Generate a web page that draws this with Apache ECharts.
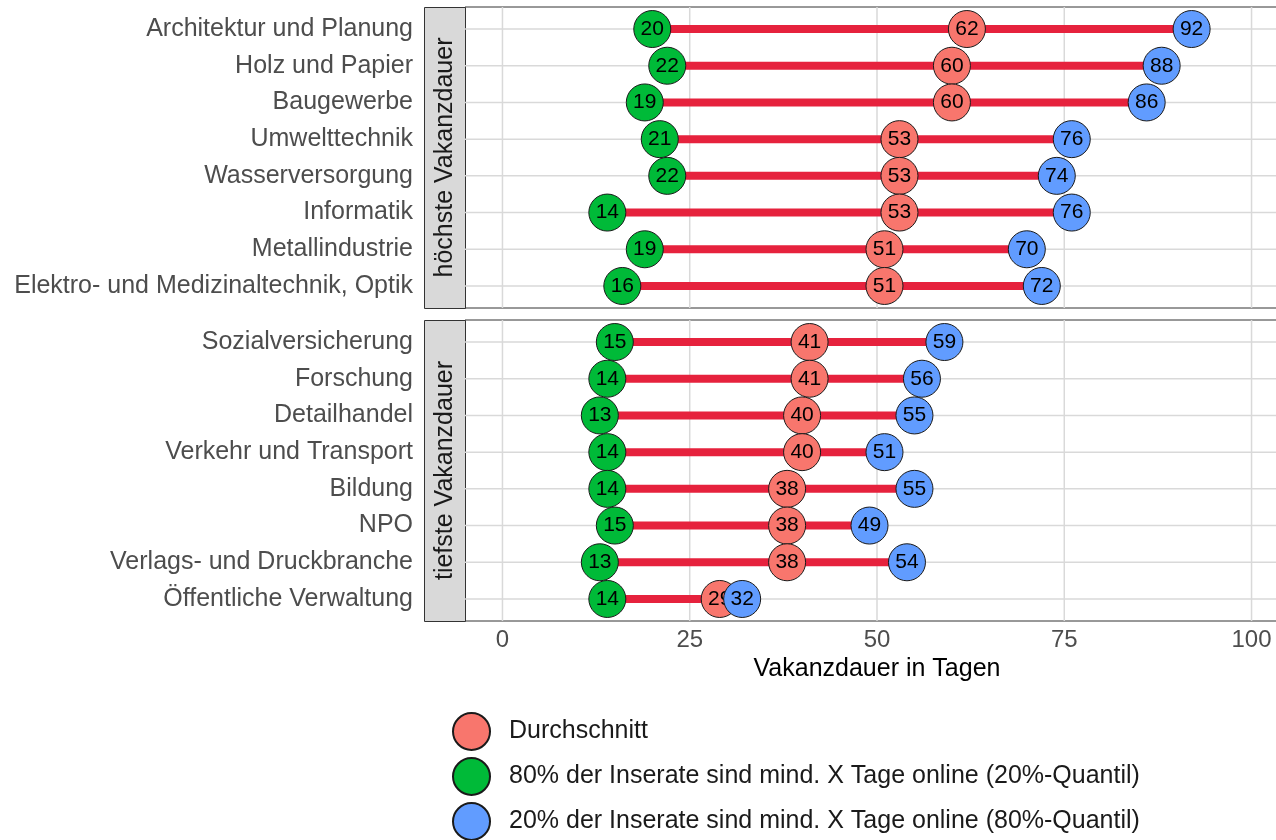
<!DOCTYPE html>
<html lang="de">
<head>
<meta charset="UTF-8">
<title>Vakanzdauer</title>
<script src="https://cdn.jsdelivr.net/npm/echarts@6/dist/echarts.min.js"></script>
<style>
  html, body { margin: 0; padding: 0; background: #fff; }
  #main { width: 1276px; height: 840px; }
</style>
</head>
<body>
<div id="main"></div>
<script>
// Daten: höchste Vakanzdauer (oberes Panel)
var topCats = ['Architektur und Planung', 'Holz und Papier', 'Baugewerbe', 'Umwelttechnik',
  'Wasserversorgung', 'Informatik', 'Metallindustrie', 'Elektro- und Medizinaltechnik, Optik'];
var topQ20 = [20, 22, 19, 21, 22, 14, 19, 16];
var topMean = [62, 60, 60, 53, 53, 53, 51, 51];
var topQ80 = [92, 88, 86, 76, 74, 76, 70, 72];

// tiefste Vakanzdauer (unteres Panel)
var botCats = ['Sozialversicherung', 'Forschung', 'Detailhandel', 'Verkehr und Transport',
  'Bildung', 'NPO', 'Verlags- und Druckbranche', 'Öffentliche Verwaltung'];
var botQ20 = [15, 14, 13, 14, 14, 15, 13, 14];
var botMean = [41, 41, 40, 40, 38, 38, 38, 29];
var botQ80 = [59, 56, 55, 51, 55, 49, 54, 32];

var xTicks = [0, 25, 50, 75, 100];
var stripNames = ['höchste Vakanzdauer', 'tiefste Vakanzdauer'];
var nameMean = 'Durchschnitt';
var nameQ20 = '80% der Inserate sind mind. X Tage online (20%-Quantil)';
var nameQ80 = '20% der Inserate sind mind. X Tage online (80%-Quantil)';

var FONT = '"Liberation Sans", Arial, sans-serif';
var cols = { mean: '#F8766D', q20: '#00BA38', q80: '#619CFF', seg: '#E6223D', grid: '#d9d9d9' };

var myChart = echarts.init(document.getElementById('main'));

function pts(vals) {
  return vals.map(function (v, i) { return [v, i]; });
}

function yAxisFor(idx, cats) {
  return {
    type: 'value', gridIndex: idx, inverse: true, min: -0.6, max: 7.6,
    splitLine: { show: false }, axisLine: { show: false }, axisTick: { show: false },
    axisLabel: {
      customValues: cats.map(function (c, i) { return i; }),
      formatter: function (v) { return cats[Math.round(v)]; },
      color: '#4d4d4d', fontSize: 25, fontFamily: FONT, margin: 52
    }
  };
}

function xAxisFor(idx, showLabels) {
  return {
    type: 'value', gridIndex: idx, min: -5, max: 105,
    splitLine: { show: false }, axisLine: { show: false }, axisTick: { show: false },
    axisLabel: {
      show: showLabels, customValues: xTicks,
      color: '#4d4d4d', fontSize: 24, fontFamily: FONT, margin: 7
    },
    name: showLabels ? 'Vakanzdauer in Tagen' : '',
    nameLocation: 'middle', nameGap: 36,
    nameTextStyle: { color: '#000', fontSize: 25, fontFamily: FONT, verticalAlign: 'top' }
  };
}

function gridLines(idx, n) {
  // vertikale + horizontale Hilfslinien
  return [{
    type: 'custom', xAxisIndex: idx, yAxisIndex: idx, silent: true, z: 1,
    data: xTicks.map(function (v) { return [v, 0]; }),
    renderItem: function (params, api) {
      var cs = params.coordSys;
      var x = api.coord([api.value(0), 0])[0];
      return { type: 'line', shape: { x1: x, y1: cs.y, x2: x, y2: cs.y + cs.height },
        style: { stroke: cols.grid, lineWidth: 1.5 } };
    }
  }, {
    type: 'custom', xAxisIndex: idx, yAxisIndex: idx, silent: true, z: 1,
    data: Array.from({ length: n }, function (_, i) { return [0, i]; }),
    renderItem: function (params, api) {
      var cs = params.coordSys;
      var y = api.coord([0, api.value(1)])[1];
      return { type: 'line', shape: { x1: cs.x, y1: y, x2: cs.x + cs.width, y2: y },
        style: { stroke: cols.grid, lineWidth: 1.5 } };
    }
  }];
}

function segments(idx, lo, hi) {
  return {
    type: 'custom', xAxisIndex: idx, yAxisIndex: idx, silent: true, z: 2,
    data: lo.map(function (v, i) { return [v, hi[i], i]; }),
    encode: { x: [0, 1], y: 2 },
    renderItem: function (params, api) {
      var a = api.coord([api.value(0), api.value(2)]);
      var b = api.coord([api.value(1), api.value(2)]);
      return { type: 'line', shape: { x1: a[0], y1: a[1], x2: b[0], y2: b[1] },
        style: { stroke: cols.seg, lineWidth: 8 } };
    }
  };
}

function dots(idx, name, vals, color, z) {
  return {
    type: 'scatter', name: name, xAxisIndex: idx, yAxisIndex: idx, z: z,
    symbol: 'circle', symbolSize: 37,
    data: pts(vals),
    itemStyle: { color: color, borderColor: '#1a1a1a', borderWidth: 1, opacity: 1 },
    label: {
      show: true, position: 'inside', color: '#000', fontSize: 21, fontFamily: FONT,
      formatter: function (p) { return Math.round(p.value[0]); }
    },
    emphasis: { disabled: true }
  };
}

var grids = [
  { left: 465, top: 7, width: 824, height: 301 },
  { left: 465, top: 320, width: 824, height: 301 }
];

var graphics = [];
grids.forEach(function (g, i) {
  graphics.push({
    type: 'rect', left: 424, top: g.top, z: 0,
    shape: { width: 41, height: g.height },
    style: { fill: '#d9d9d9', stroke: '#333', lineWidth: 1 }
  });
  graphics.push({
    type: 'text', x: 445, y: g.top + g.height / 2, rotation: Math.PI / 2,
    style: { text: stripNames[i], fill: '#1a1a1a', fontSize: 25, fontFamily: FONT,
      align: 'center', verticalAlign: 'middle' }
  });
});

var series = [];
[[topCats, topQ20, topMean, topQ80], [botCats, botQ20, botMean, botQ80]].forEach(function (d, i) {
  series = series.concat(gridLines(i, d[0].length));
  series.push(segments(i, d[1], d[3]));
  series.push(dots(i, nameQ20, d[1], cols.q20, 3));
  series.push(dots(i, nameMean, d[2], cols.mean, 4));
  series.push(dots(i, nameQ80, d[3], cols.q80, 5));
});

// je Legendeneintrag eine eigene Legende (untereinander)
var legends = [nameMean, nameQ20, nameQ80].map(function (n, i) {
  return {
    left: 452, top: 712 + i * 45, padding: 0,
    itemWidth: 37, itemHeight: 37,
    icon: 'circle', selectedMode: false,
    data: [n],
    textStyle: { color: '#1a1a1a', fontSize: 25, fontFamily: FONT, padding: [0, 0, 0, 14] }
  };
});

option = {
  backgroundColor: '#fff',
  animation: false,
  grid: grids.map(function (g) {
    return Object.assign({ show: true, borderColor: '#333', borderWidth: 1,
      backgroundColor: 'transparent', containLabel: false, outerBoundsMode: 'none' }, g);
  }),
  xAxis: [xAxisFor(0, false), xAxisFor(1, true)],
  yAxis: [yAxisFor(0, topCats), yAxisFor(1, botCats)],
  legend: legends,
  graphic: graphics,
  series: series
};
myChart.setOption(option);
</script>
</body>
</html>
